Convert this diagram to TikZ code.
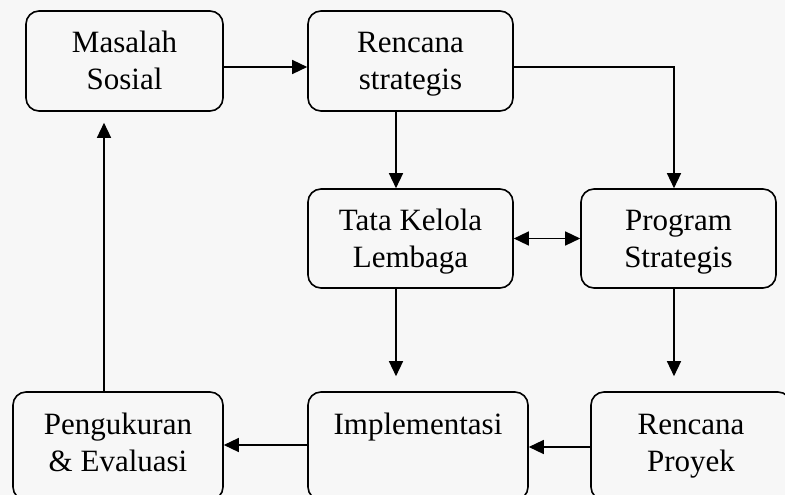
\documentclass[tikz,border=0pt]{standalone}
\usepackage{fontspec}
\setmainfont{Liberation Serif}
\usetikzlibrary{arrows.meta}
\definecolor{paperbg}{RGB}{247,247,247}

\begin{document}
\begin{tikzpicture}[
  x=1pt, y=-1pt,
  stepbox/.style={draw=black, rounded corners=13pt, line width=1.6pt,
                  align=center, inner sep=0pt,
                  font=\fontsize{31}{37}\selectfont,
                  text height=58pt, text depth=0pt},
  lowbox/.style={stepbox, minimum height=108pt, text depth=8pt},
  flow/.style={line width=1.4pt, -{Triangle[length=15pt, width=14pt]}},
  twoway/.style={line width=1.4pt,
                 {Triangle[length=15pt, width=14pt]}-{Triangle[length=15pt, width=14pt]}}
]
  \fill[paperbg] (0,0) rectangle (785,495);
  \useasboundingbox (0,0) rectangle (785,495);
  \clip (0,0) rectangle (785,495);

  \node[stepbox, minimum width=197pt, minimum height=100pt] (masalah) at (124.5, 61) {Masalah\\Sosial};
  \node[stepbox, minimum width=205pt, minimum height=100pt] (renstra) at (410.5, 61) {Rencana\\strategis};
  \node[stepbox, minimum width=205pt, minimum height=99pt] (tatakelola) at (410.5, 238.5) {Tata Kelola\\Lembaga};
  \node[stepbox, minimum width=195pt, minimum height=99pt] (program) at (678.5, 238.5) {Program\\Strategis};
  \node[lowbox, minimum width=210pt] (ukur) at (118, 446) {Pengukuran\\\& Evaluasi};
  \node[lowbox, minimum width=220pt] (implementasi) at (418, 446) {Implementasi\\\mbox{}};
  \node[lowbox, minimum width=200pt] (proyek) at (691, 446) {Rencana\\Proyek};

  \draw[flow] ([yshift=-6pt]masalah.east) -- ([yshift=-6pt]renstra.west);
  \draw[flow] ([xshift=-14.5pt]renstra.south) -- ([xshift=-14.5pt]tatakelola.north);
  \draw[flow] ([yshift=-6pt]renstra.east) -| ([xshift=-4.5pt]program.north);
  \draw[twoway] (tatakelola.east) -- (program.west);
  \draw[flow, shorten >=15pt] ([xshift=-14.5pt]tatakelola.south) -- ([xshift=-14.5pt]tatakelola.south |- implementasi.north);
  \draw[flow, shorten >=15pt] ([xshift=-4.5pt]program.south) -- ([xshift=-4.5pt]program.south |- proyek.north);
  \draw[flow] ([yshift=-1pt]proyek.west) -- ([yshift=-1pt]implementasi.east);
  \draw[flow] ([yshift=1pt]implementasi.west) -- ([yshift=1pt]ukur.east);
  \draw[flow, shorten >=11pt] ([xshift=-14pt]ukur.north) -- ([xshift=-14pt]ukur.north |- masalah.south);
\end{tikzpicture}
\end{document}
